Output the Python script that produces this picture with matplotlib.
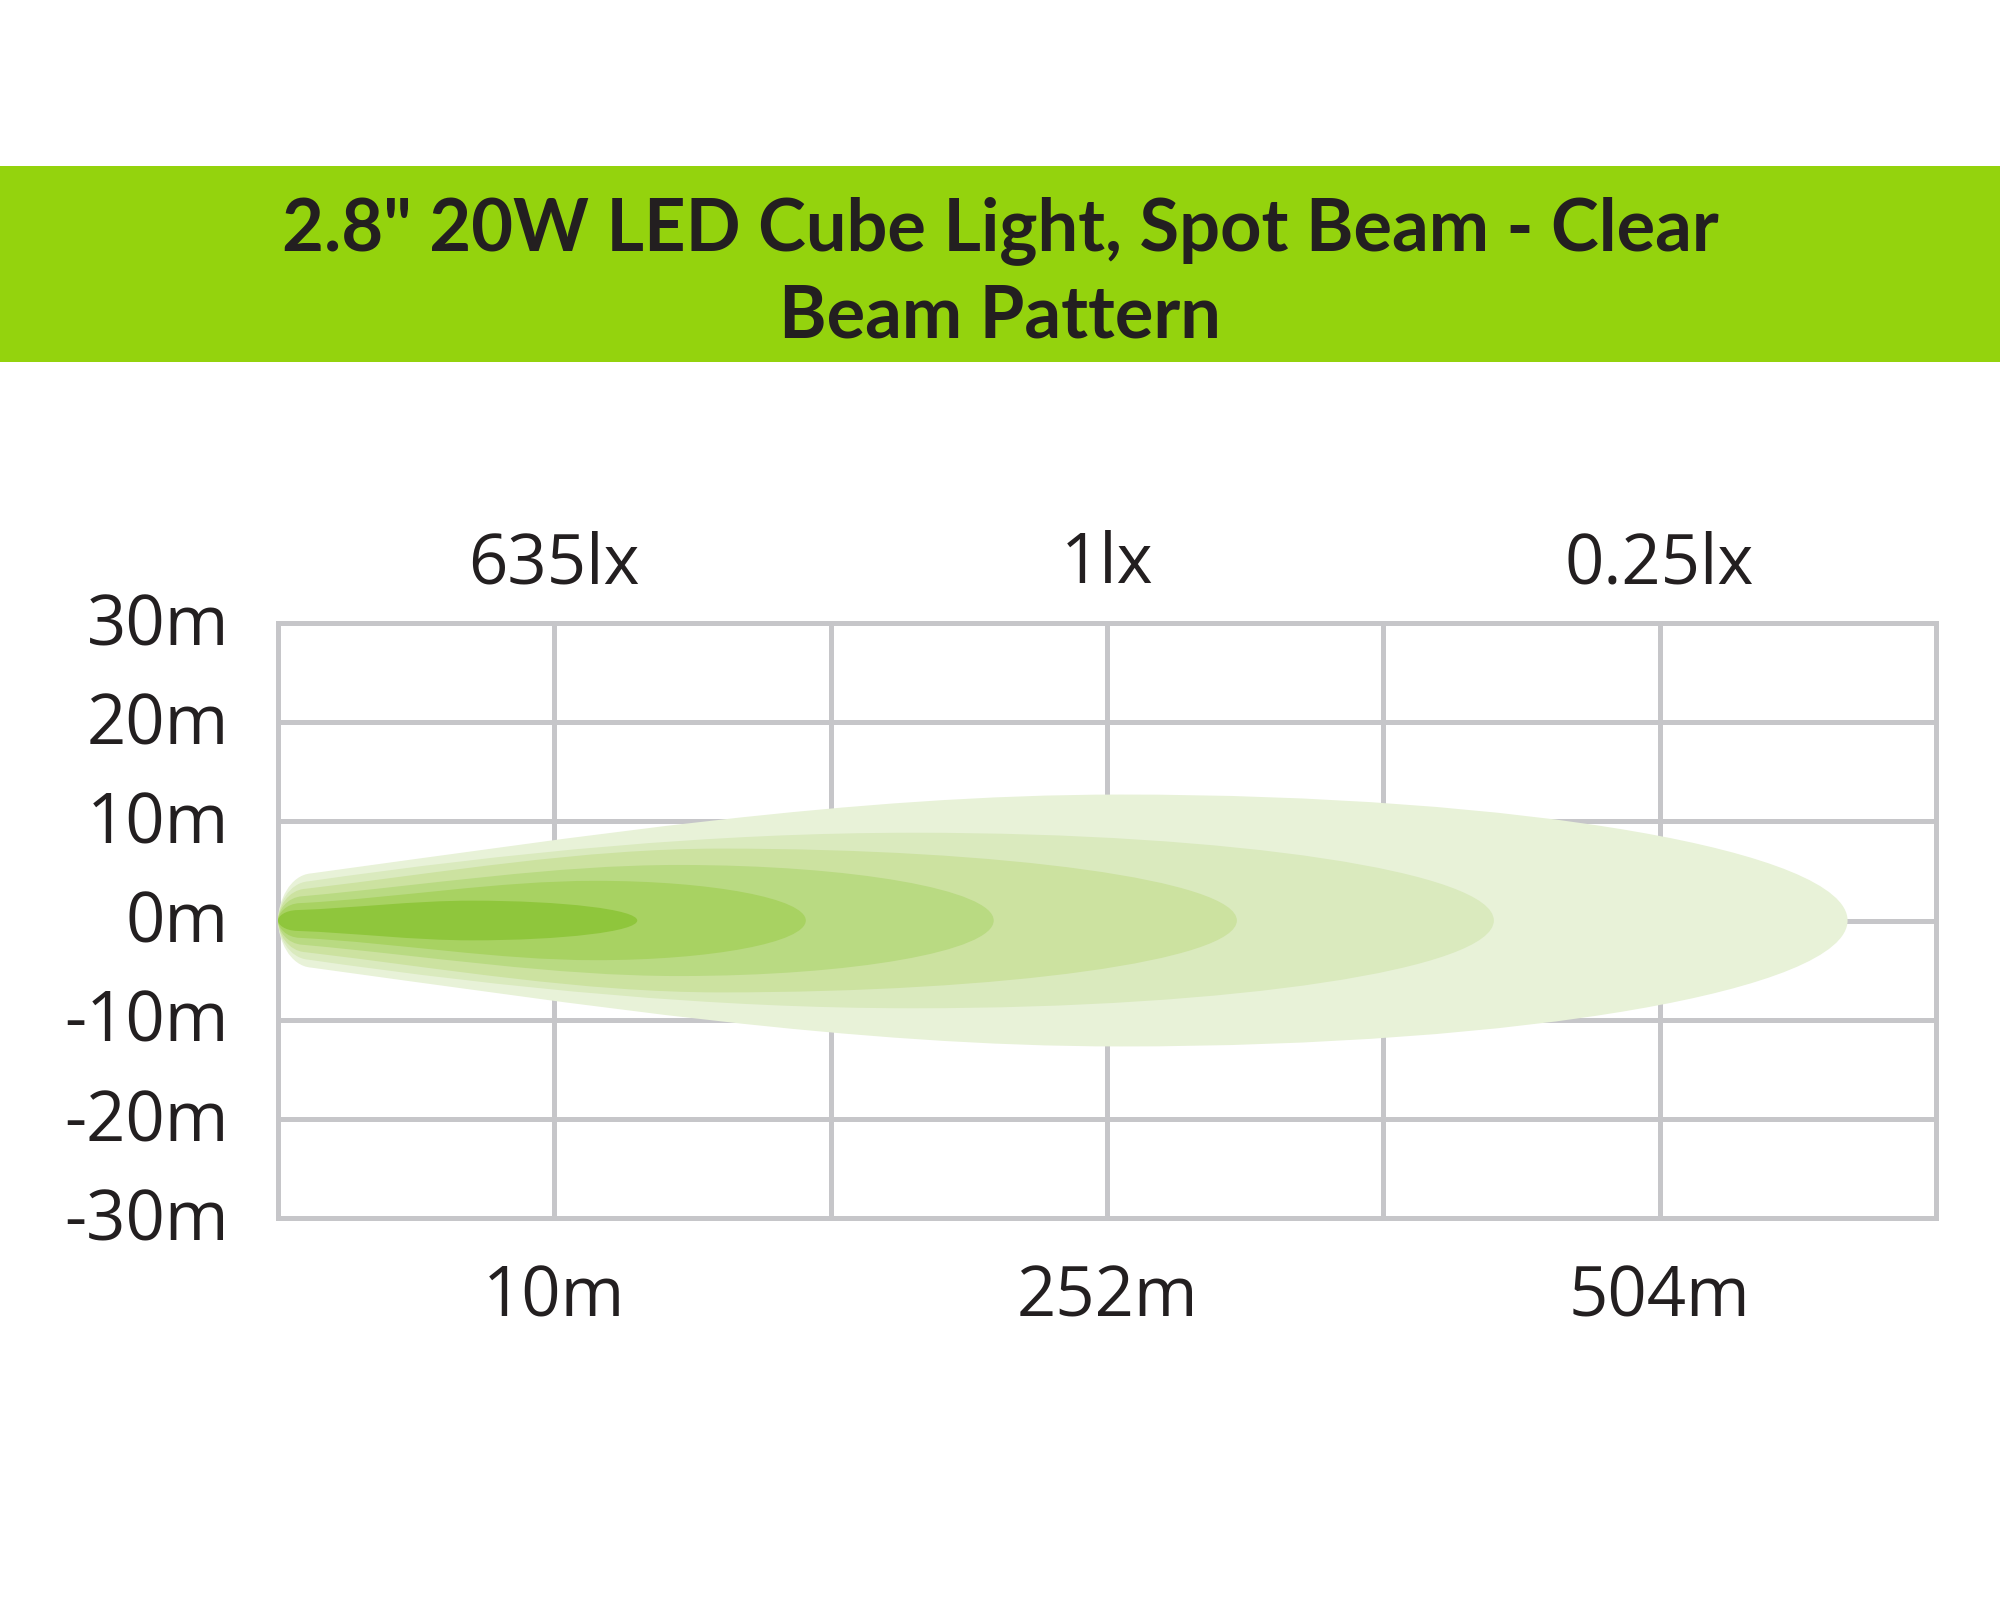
import matplotlib.pyplot as plt
from matplotlib.patches import PathPatch, Rectangle
from matplotlib.path import Path

# axis labels
y_ticks = [30, 20, 10, 0, -10, -20, -30]
y_labels = ['30m', '20m', '10m', '0m', '-10m', '-20m', '-30m']
label_cols = [1, 3, 5]
lux_labels = ['635lx', '1lx', '0.25lx']
dist_labels = ['10m', '252m', '504m']
n_cols = 6

# beam layers, outermost first (x in grid columns, y in metres)
reach = [5.68, 4.40, 3.47, 2.59, 1.91, 1.30]
peak_x = [3.05, 2.30, 1.60, 1.45, 1.15, 0.70]
peak_w = [12.7, 8.85, 7.25, 5.6, 4.0, 2.0]
nose_x = [0.12, 0.11, 0.10, 0.09, 0.08, 0.07]
nose_w = [4.75, 3.95, 3.2, 2.45, 1.75, 1.05]
taper = [3.8, 4.0, 3.3, 2.5, 1.5, 1.0]
beam_colors = ['#e8f2d8', '#daeabe', '#cce2a0', '#b9da82', '#a8d262', '#8fc63c']

title_1 = '2.8" 20W LED Cube Light, Spot Beam - Clear'
title_2 = 'Beam Pattern'

K = 0.5523


def beam_path(L, px, h, nx, nw, s):
    d = (px - nx) / 3
    upper = [(0, 0),
             (0, nw * 0.4), (nx * 0.35, nw - nx * 0.35 * s), (nx, nw),
             (nx + d, nw + d * s), (px - d, h), (px, h),
             (px + K * (L - px), h), (L, K * h), (L, 0)]
    lower = [(x, -y) for x, y in reversed(upper[:-1])]
    verts = upper + lower
    codes = [Path.MOVETO] + [Path.CURVE4] * (len(verts) - 1)
    return Path(verts, codes)


fig = plt.figure(figsize=(20, 16), dpi=100)

# green title banner
fig.patches.append(Rectangle((0, 0.77375), 1, 0.1225, transform=fig.transFigure,
                             facecolor='#94d30d', edgecolor='none', zorder=0))
title_font = dict(family=['Lato', 'Open Sans', 'DejaVu Sans'],
                  weight='bold', size=52, color='#231f20', ha='center', va='baseline')
fig.text(0.5, 0.84375, title_1, **title_font)
fig.text(0.5, 0.78875, title_2, **title_font)

ax = fig.add_axes([0.139, 0.23875, 0.829, 0.371875])
ax.set_xlim(0, n_cols)
ax.set_ylim(-30, 30)
ax.axis('off')

grid_style = dict(color='#c6c6c9', linewidth=3.6, zorder=1, clip_on=False, capstyle='projecting')
ax.vlines(range(n_cols + 1), -30, 30, **grid_style)
ax.hlines(y_ticks, 0, n_cols, **grid_style)

for i in range(len(reach)):
    p = beam_path(reach[i], peak_x[i], peak_w[i], nose_x[i], nose_w[i], taper[i])
    ax.add_patch(PathPatch(p, facecolor=beam_colors[i], edgecolor='none', zorder=2 + i))

lab_font = dict(family=['Open Sans', 'DejaVu Sans'], size=49.5, color='#231f20', va='baseline')
for y, lab in zip(y_ticks, y_labels):
    ax.text(-0.177, y - 2.25, lab, ha='right', clip_on=False, **lab_font)
for x, lab in zip(label_cols, lux_labels):
    ax.text(x, 34.0, lab, ha='center', clip_on=False, **lab_font)
for x, lab in zip(label_cols, dist_labels):
    ax.text(x, -39.9, lab, ha='center', clip_on=False, **lab_font)

fig.savefig('out.png', dpi=100, facecolor='white')
